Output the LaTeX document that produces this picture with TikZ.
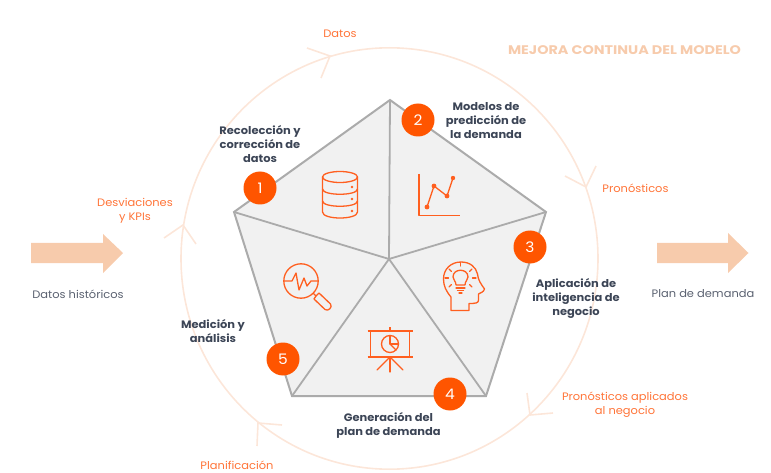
\documentclass[tikz,border=0pt]{standalone}
\usepackage{fontspec}
\setmainfont[FakeStretch=1.06]{Poppins}
\newfontfamily\wideface[FakeStretch=1.15]{Poppins}
\definecolor{peach}{HTML}{F7CBAC}
\definecolor{ringc}{HTML}{FCE6D9}
\definecolor{numc}{HTML}{FF5500}
\definecolor{iconc}{HTML}{FF5F1F}
\definecolor{labc}{HTML}{FF7438}
\definecolor{darkc}{HTML}{3C4556}
\definecolor{greyc}{HTML}{5A6170}
\definecolor{facec}{HTML}{F1F1F1}
\definecolor{edgec}{HTML}{ABABAB}
\tikzset{
  ring/.style={draw=ringc,line width=1.6pt,line join=miter},
  panel/.style={fill=facec,draw=edgec,line width=2pt,line join=miter},
  spoke/.style={draw=edgec,line width=1.8pt},
  badge/.style={circle,fill=numc,text=white,minimum size=33pt,inner sep=0pt,font=\fontsize{14.5}{16}\selectfont},
  steplab/.style={align=center,text=darkc,inner sep=0pt,font=\fontsize{10.8}{14}\selectfont\bfseries},
  flowlab/.style={align=center,text=labc,inner sep=0pt,font=\fontsize{10.8}{14}\selectfont},
  iolab/.style={align=center,text=greyc,inner sep=0pt,font=\fontsize{10.8}{14}\selectfont},
  bigarrow/.style={fill=peach,draw=none},
  icon/.style={draw=iconc,line width=1.3pt,line join=round,line cap=round},
  dot/.style={fill=iconc,draw=none},
}
\begin{document}
\begin{tikzpicture}[x=1pt,y=-1pt]
\useasboundingbox (0,0) rectangle (771,473);
% ring
\coordinate (rc) at (389.5,258.5);
\draw[ring] (rc) ellipse[x radius=208.5,y radius=210.7];
\draw[ring] (307,48) -- (330,56) -- (321,78);
\draw[ring] (565,176) -- (586,187) -- (596,166);
\draw[ring] (527,393) -- (530,415) -- (553,413);
\draw[ring] (282,425) -- (258,423) -- (257,446);
\draw[ring] (164,238) -- (183,225) -- (196,244);
% pentagon
\coordinate (pt) at (390,100);
\coordinate (pr) at (546,212);
\coordinate (pbr) at (486,396);
\coordinate (pbl) at (292,396);
\coordinate (pl) at (234,212);
\coordinate (pc) at (389,259);
\draw[panel] (pt) -- (pr) -- (pbr) -- (pbl) -- (pl) -- cycle;
\draw[spoke] (pc) -- (pt);
\draw[spoke] (pc) -- (pr);
\draw[spoke] (pc) -- (pbr);
\draw[spoke] (pc) -- (pbl);
\draw[spoke] (pc) -- (pl);
% badges
\node[badge] (b1) at (260,188) {1};
\node[badge] (b2) at (418,120) {2};
\node[badge] (b3) at (530,247) {3};
\node[badge] (b4) at (450,394) {4};
\node[badge] (b5) at (283,359) {5};
% database icon
\draw[icon] (340,177) ellipse[x radius=17.5,y radius=5.5];
\draw[icon] (322.5,177) -- (322.5,212) .. controls (322.5,220) and (357.5,220) .. (357.5,212) -- (357.5,177);
\draw[icon] (322.5,189) .. controls (322.5,196) and (357.5,196) .. (357.5,189);
\draw[icon] (322.5,201) .. controls (322.5,208) and (357.5,208) .. (357.5,201);
\fill[dot] (352,187) circle[radius=1.3];
\fill[dot] (352,199) circle[radius=1.3];
\fill[dot] (352,211) circle[radius=1.3];
% chart icon
\draw[icon,line cap=butt] (419,174) -- (419,215.5) -- (460,215.5);
\draw[icon] (427,207) -- (434,186) -- (447,196) -- (453,178);
\fill[dot] (427,207) circle[radius=2.4];
\fill[dot] (434,186) circle[radius=2.4];
\fill[dot] (447,196) circle[radius=2.4];
\fill[dot] (453,178) circle[radius=2.2];
% head icon
\draw[icon] (451,310.5) -- (451,297) .. controls (446,291) and (443.5,286) .. (443.5,279)
  .. controls (443.5,269) and (451,262) .. (461,262)
  .. controls (470,262) and (476,267) .. (477.5,274)
  .. controls (478,280) and (481,284) .. (484.5,289)
  .. controls (484,292) and (480,293) .. (478.5,294) -- (478.5,300)
  .. controls (478.5,303) and (476,303.5) .. (469,303.5) -- (469,310.5) -- cycle;
\draw[icon] (456,285) .. controls (456,281) and (453,280) .. (453,277)
  .. controls (453,268) and (468,268) .. (468,277)
  .. controls (468,280) and (465,281) .. (465,285) -- cycle;
\draw[icon] (456,288) -- (465,288);
\draw[icon] (457.5,290.5) -- (463.5,290.5);
\draw[icon] (459,293) -- (462,293);
\draw[icon] (460.5,266) -- (460.5,262.5);
\draw[icon] (449,269) -- (451.5,271.5);
\draw[icon] (472,269) -- (469.5,271.5);
\draw[icon] (448.5,278) -- (445,278);
\draw[icon] (472.5,278) -- (476,278);
\draw[icon] (451.5,284.5) -- (449,287);
\draw[icon] (469.5,284.5) -- (472,287);
% presentation icon
\draw[icon,line cap=butt] (367.5,331) -- (412.5,331);
\draw[icon,line cap=butt] (367.5,357) -- (412.5,357);
\draw[icon,line cap=butt] (370.5,331) -- (370.5,357);
\draw[icon,line cap=butt] (409.5,331) -- (409.5,357);
\draw[icon,line cap=butt] (390,327) -- (390,331);
\draw[icon] (390,357) -- (390,372);
\draw[icon] (389,358) -- (377,370);
\draw[icon] (391,358) -- (403,370);
\draw[icon] (390,344) circle[radius=8.5];
\draw[icon] (390,335.5) -- (390,344) -- (398.5,344);
\draw[icon] (390,344) -- (396,350);
% magnifier icon
\draw[icon] (301,281) circle[radius=17.2];
\draw[icon] (284,281) -- (292,281) -- (296,273) -- (299,290) -- (304,278) -- (307,286) -- (311,281) -- (318,281);
\draw[icon] (313.5,293.5) -- (316,296);
\draw[icon] (316,296) -- (319,293) -- (330.5,304) .. controls (333,307) and (328,312) .. (325,309.5) -- (314,299) -- cycle;
% flow arrows
\path[bigarrow] (31,243) -- (103,243) -- (103,234) -- (123,253) -- (103,273) -- (103,263) -- (31,263) -- cycle;
\path[bigarrow] (657,243) -- (728,243) -- (728,233) -- (748.5,253) -- (728,273) -- (728,263) -- (657,263) -- cycle;
% labels
\node[flowlab] (datos) at (340,34) {Datos};
\node[inner sep=0pt,text=peach,font=\wideface\fontsize{12.5}{14}\selectfont\bfseries] (mejora) at (624.5,50) {MEJORA CONTINUA DEL MODELO};
\node[steplab] (l2) at (486,120.8) {Modelos de\\predicción de\\la demanda};
\node[steplab] (l1) at (260,143.8) {Recolección y\\corrección de\\datos};
\node[flowlab] (pron) at (635.5,188) {Pronósticos};
\node[flowlab] (desv) at (135,210.8) {Desviaciones\\y KPIs};
\node[steplab] (l3) at (576,298.8) {Aplicación de\\inteligencia de\\negocio};
\node[iolab] (hist) at (78,294) {Datos históricos};
\node[iolab] (plan) at (703,294) {Plan de demanda};
\node[steplab] (l5) at (213,330.8) {Medición y\\análisis};
\node[steplab] (l4) at (388.5,425.8) {Generación del\\plan de demanda};
\node[flowlab] (apl) at (625,404.8) {Pronósticos aplicados\\al negocio};
\node[flowlab] (pla) at (237,465) {Planificación};
\end{tikzpicture}
\end{document}
